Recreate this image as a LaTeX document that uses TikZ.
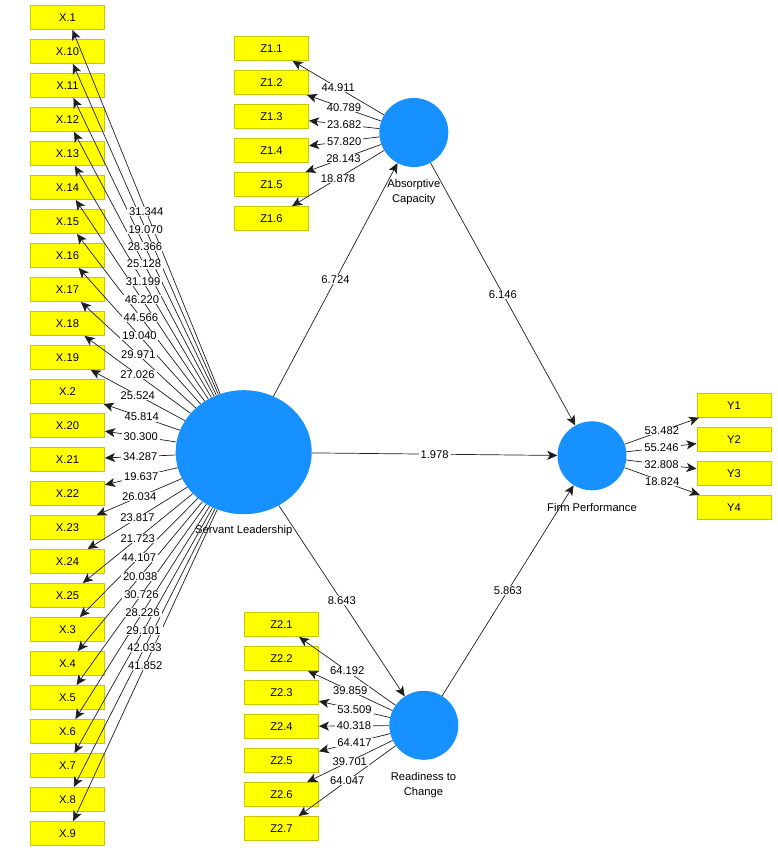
\documentclass[tikz,border=0pt]{standalone}
\usepackage{fontspec}
\setmainfont{Liberation Sans}
\usetikzlibrary{shapes.geometric,arrows.meta}
\definecolor{lvblue}{RGB}{23,145,255}
\definecolor{mvfill}{RGB}{255,255,0}
\definecolor{mvdraw}{RGB}{200,200,0}
\definecolor{linecol}{RGB}{30,30,30}
\begin{document}
\begin{tikzpicture}[x=1pt,y=-1pt,
  mv/.style={draw=mvdraw,fill=mvfill,line width=0.9pt,minimum width=74pt,minimum height=24pt,inner sep=0pt,font=\fontsize{11.2}{12}\selectfont},
  lv/.style={circle,fill=lvblue,minimum size=69pt,inner sep=0pt},
  conn/.style={draw=linecol,line width=0.7pt,-{Stealth[length=10pt,width=9pt,inset=2.5pt]}},
  lbl/.style={fill=white,inner xsep=2pt,inner ysep=0.5pt,font=\fontsize{11.2}{12}\selectfont},
  txt/.style={align=center,font=\fontsize{11.2}{15.5}\selectfont,inner sep=0pt}
]
\useasboundingbox (0,0) rectangle (777,851);

% latent variables
\node[ellipse,fill=lvblue,minimum width=136pt,minimum height=124pt,inner sep=0pt] (SL) at (243.7,452.2) {};
\node[lv] (AC) at (413.8,132.5) {};
\node[lv] (RC) at (423.8,725.3) {};
\node[lv] (FP) at (592,455.8) {};

\node[txt] (SLt) at (243.7,531) {Servant Leadership};
\node[txt] (ACt) at (413.8,192) {Absorptive\\Capacity};
\node[txt] (RCt) at (423.5,785) {Readiness to\\Change};
\node[txt] (FPt) at (592,507.7) {Firm Performance};

% X indicators
\foreach \n [count=\i from 0] in {1,10,11,12,13,14,15,16,17,18,19,2,20,21,22,23,24,25,3,4,5,6,7,8,9}
  \node[mv] (x\i) at (67.5,{17.5+34*\i}) {X.\n};
% Z1 indicators
\foreach \i in {1,...,6}
  \node[mv] (za\i) at (271.5,{48.5+34*(\i-1)}) {Z1.\i};
% Z2 indicators
\foreach \i in {1,...,7}
  \node[mv] (zb\i) at (281.5,{624.5+34*(\i-1)}) {Z2.\i};
% Y indicators
\foreach \i in {1,...,4}
  \node[mv] (y\i) at (734,{405.3+34*(\i-1)}) {Y\i};

% lines
\foreach \i in {0,...,24} \draw[conn] (SL) -- (x\i);
\foreach \i in {1,...,6} \draw[conn] (AC) -- (za\i);
\foreach \i in {1,...,7} \draw[conn] (RC) -- (zb\i);
\foreach \i in {1,...,4} \draw[conn] (FP) -- (y\i);
\draw[conn] (SL) -- (AC);
\draw[conn] (AC) -- (FP);
\draw[conn] (SL) -- (FP);
\draw[conn] (SL) -- (RC);
\draw[conn] (RC) -- (FP);

% labels
\foreach \v [count=\i from 0] in {31.344,19.070,28.366,25.128,31.199,46.220,44.566,19.040,29.971,27.026,25.524,45.814,30.300,34.287,19.637,26.034,23.817,21.723,44.107,20.038,30.726,28.226,29.101,42.033,41.852}
  \path (SL) -- node[lbl]{\v} (x\i);
\foreach \v [count=\i] in {44.911,40.789,23.682,57.820,28.143,18.878}
  \path (AC) -- node[lbl]{\v} (za\i);
\foreach \v [count=\i] in {64.192,39.859,53.509,40.318,64.417,39.701,64.047}
  \path (RC) -- node[lbl]{\v} (zb\i);
\foreach \v [count=\i] in {53.482,55.246,32.808,18.824}
  \path (FP) -- node[lbl]{\v} (y\i);
\path (SL) -- node[lbl]{6.724} (AC);
\path (AC) -- node[lbl]{6.146} (FP);
\path (SL) -- node[lbl]{1.978} (FP);
\path (SL) -- node[lbl]{8.643} (RC);
\path (RC) -- node[lbl]{5.863} (FP);
\end{tikzpicture}
\end{document}
